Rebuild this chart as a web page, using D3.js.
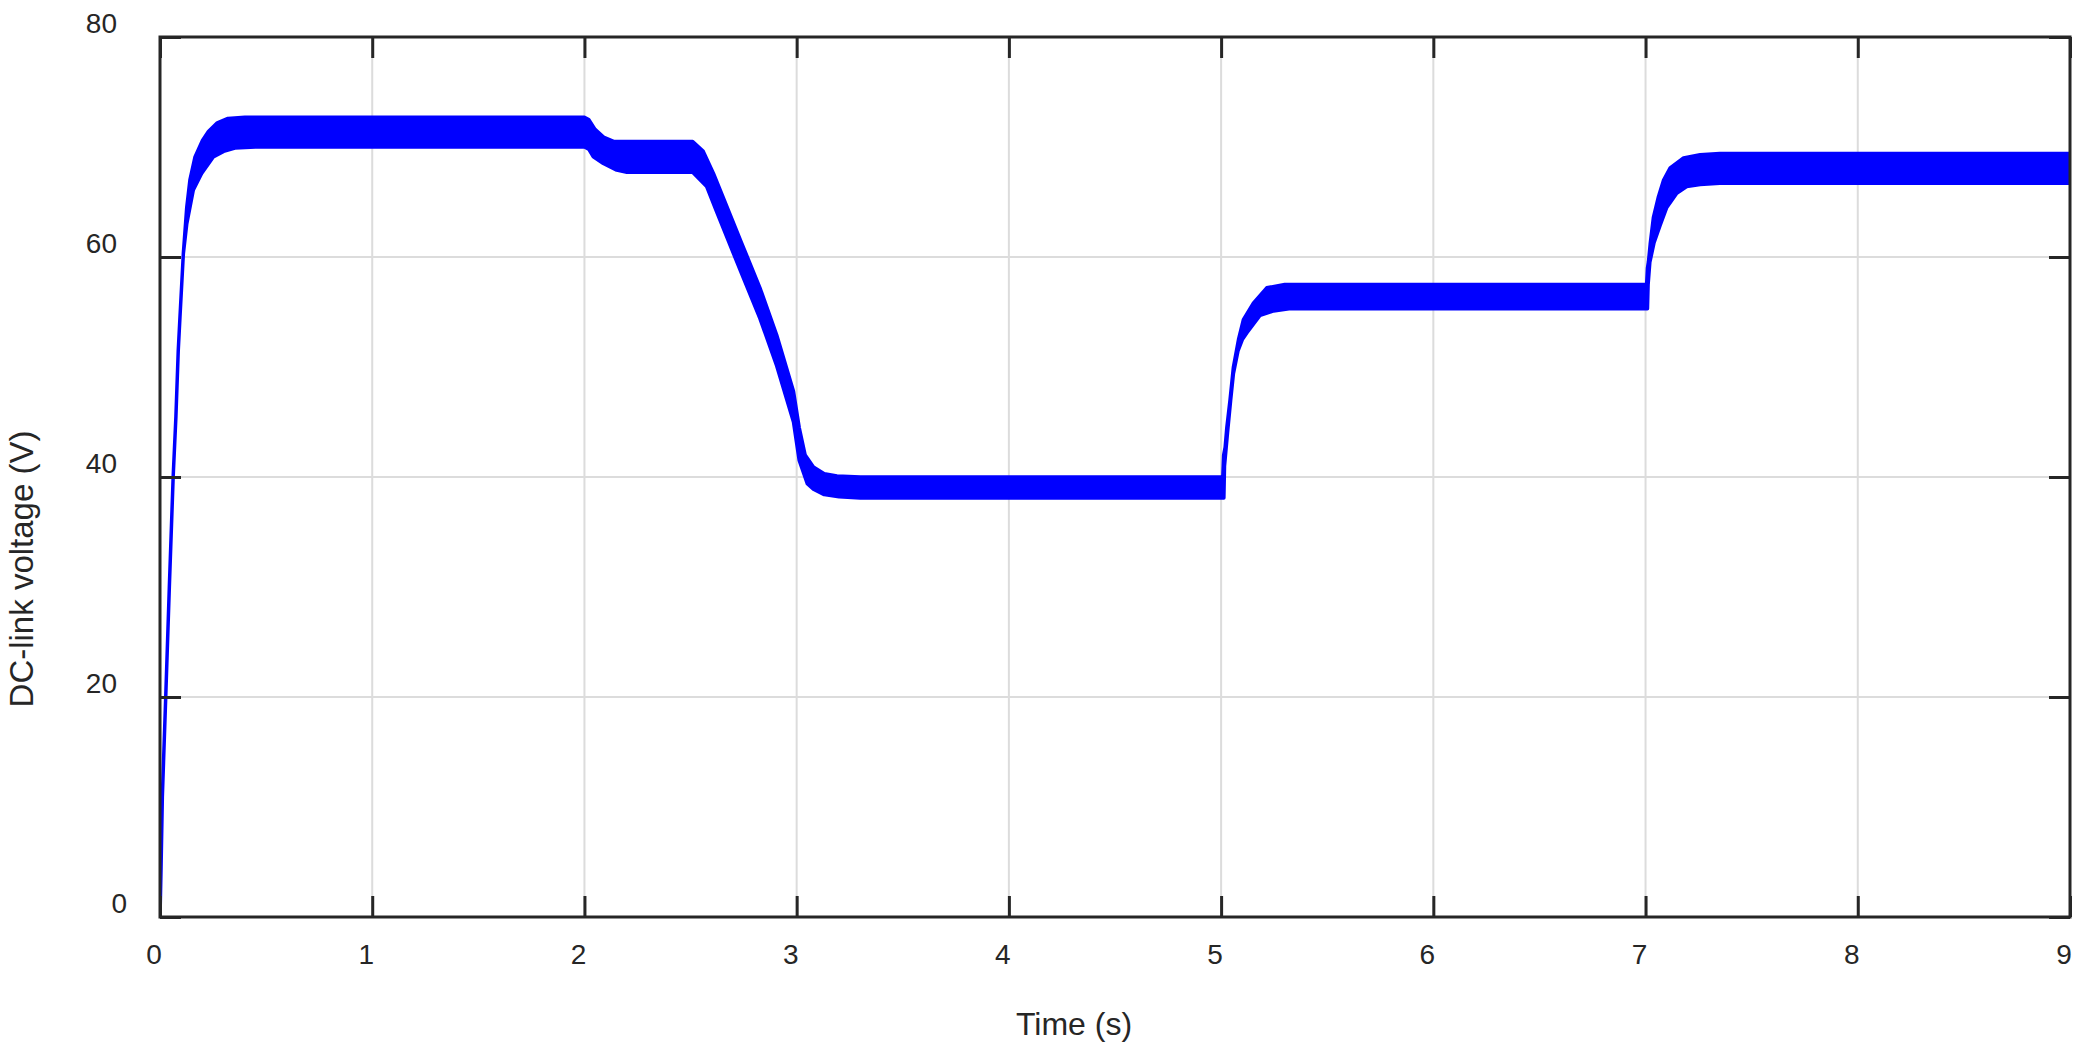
<!DOCTYPE html>
<html>
<head>
<meta charset="utf-8">
<script src="https://cdn.jsdelivr.net/npm/d3@7"></script>
<style>
  body { margin: 0; background: #fff; }
  text { font-family: "Liberation Sans", Arial, sans-serif; fill: #262626; }
</style>
</head>
<body>
<div id="d3-container"></div>
<script>
const width = 2082,
  height = 1050,
  margin = { top: 37, bottom: 133, left: 160, right: 12 },
  tickLen = 21;

// tick values
const xTicks = [0, 1, 2, 3, 4, 5, 6, 7, 8, 9];
const yTicks = [0, 20, 40, 60, 80];

// upper edge of the ripple band (time in s, voltage in V)
const upperTime = [0, 0.005, 0.011, 0.027, 0.044, 0.062, 0.075, 0.086, 0.094, 0.11,
  0.126, 0.141, 0.165, 0.2, 0.228, 0.27, 0.32, 0.4, 1.0, 2.0,
  2.02, 2.05, 2.09, 2.14, 2.51, 2.56, 2.608, 2.65, 2.738, 2.827,
  2.906, 2.985, 3.012, 3.04, 3.079, 3.13, 3.19, 3.3, 4.0, 5.008,
  5.012, 5.019, 5.027, 5.042, 5.058, 5.082, 5.105, 5.152, 5.215, 5.3,
  6.0, 7.005, 7.009, 7.014, 7.022, 7.037, 7.061, 7.085, 7.116, 7.179,
  7.257, 7.35, 8.0, 9.0];
const upperVolt = [0, 4.5, 10.9, 20, 30, 40, 45.5, 51.5, 54.5, 60.3,
  64.5, 67.0, 69.1, 70.6, 71.4, 72.2, 72.6, 72.7, 72.7, 72.7,
  72.5, 71.6, 70.9, 70.5, 70.5, 69.6, 67.6, 65.6, 61.4, 57.2,
  52.9, 47.8, 44.5, 42.0, 40.9, 40.3, 40.1, 40.0, 40.0, 40.0,
  42.0, 42.7, 44.5, 47.0, 50.0, 52.5, 54.3, 55.8, 57.2, 57.5,
  57.5, 57.5, 59.0, 59.6, 61.2, 63.6, 65.5, 67.0, 68.1, 69.0,
  69.3, 69.4, 69.4, 69.4];

// lower edge of the ripple band
const lowerTime = [0, 0.005, 0.011, 0.027, 0.044, 0.062, 0.075, 0.086, 0.094, 0.11,
  0.126, 0.157, 0.196, 0.251, 0.3, 0.353, 0.45, 1.0, 2.0, 2.02,
  2.042, 2.089, 2.152, 2.2, 2.51, 2.576, 2.623, 2.738, 2.827, 2.906,
  2.985, 3.012, 3.05, 3.079, 3.13, 3.2, 3.3, 4.0, 5.013, 5.016,
  5.03, 5.045, 5.058, 5.08, 5.1, 5.121, 5.184, 5.247, 5.32, 6.0,
  7.009, 7.012, 7.02, 7.04, 7.069, 7.1, 7.147, 7.194, 7.257, 7.35,
  8.0, 9.0];
const lowerVolt = [0, 4.5, 10.9, 20, 30, 40, 45.5, 51.5, 54.5, 60.3,
  63.0, 66.1, 67.6, 69.1, 69.6, 69.9, 70.0, 70.0, 70.0, 69.8,
  69.1, 68.5, 67.9, 67.7, 67.7, 66.4, 64.1, 58.6, 54.4, 50.1,
  45.0, 41.5, 39.4, 38.9, 38.4, 38.2, 38.1, 38.1, 38.1, 41.0,
  44.0, 47.0, 49.4, 51.5, 52.5, 53.1, 54.7, 55.1, 55.3, 55.3,
  55.3, 57.5, 59.5, 61.3, 62.9, 64.5, 65.8, 66.4, 66.6, 66.7,
  66.7, 66.7];

const axisColor = "#262626";

// SCALES
const xScale = d3.scaleLinear()
  .domain([0, 9])
  .range([margin.left, width - margin.right]);

const yScale = d3.scaleLinear()
  .domain([0, 80])
  .range([height - margin.bottom, margin.top]);

const svg = d3.select("#d3-container")
  .append("svg")
  .attr("width", width)
  .attr("height", height);

svg.append("rect")
  .attr("width", width)
  .attr("height", height)
  .attr("fill", "#fff");

const x0 = xScale(0), x1 = xScale(9), y0 = yScale(0), y1 = yScale(80);

// GRID
svg.append("g")
  .selectAll("line")
  .data(xTicks.slice(1, -1))
  .join("line")
  .attr("x1", d => xScale(d)).attr("x2", d => xScale(d))
  .attr("y1", y1).attr("y2", y0)
  .attr("stroke", "#dcdcdc")
  .attr("stroke-width", 2);

svg.append("g")
  .selectAll("line")
  .data(yTicks.slice(1, -1))
  .join("line")
  .attr("x1", x0).attr("x2", x1)
  .attr("y1", d => yScale(d)).attr("y2", d => yScale(d))
  .attr("stroke", "#dcdcdc")
  .attr("stroke-width", 2);

// SIGNAL band: upper edge forward, lower edge back
svg.append("clipPath")
  .attr("id", "plot-clip")
  .append("rect")
  .attr("x", x0).attr("y", y1)
  .attr("width", x1 - x0).attr("height", y0 - y1);

const upperPts = upperTime.map((t, i) => [t, upperVolt[i]]);
const lowerPts = lowerTime.map((t, i) => [t, lowerVolt[i]]).reverse();

const line = d3.line()
  .x(d => xScale(d[0]))
  .y(d => yScale(d[1]));

svg.append("path")
  .attr("clip-path", "url(#plot-clip)")
  .attr("d", line(upperPts.concat(lowerPts)) + "Z")
  .attr("fill", "#0000ff")
  .attr("stroke", "#0000ff")
  .attr("stroke-width", 3.5)
  .attr("stroke-linejoin", "round");

// AXES: inward ticks on all four sides
const xAxisB = d3.axisBottom(xScale).tickValues(xTicks).tickSize(-tickLen).tickFormat("");
const xAxisT = d3.axisTop(xScale).tickValues(xTicks).tickSize(-tickLen).tickFormat("");
const yAxisL = d3.axisLeft(yScale).tickValues(yTicks).tickSize(-tickLen).tickFormat("");
const yAxisR = d3.axisRight(yScale).tickValues(yTicks).tickSize(-tickLen).tickFormat("");

[[xAxisB, `translate(0,${y0})`], [xAxisT, `translate(0,${y1})`],
 [yAxisL, `translate(${x0},0)`], [yAxisR, `translate(${x1},0)`]].forEach(([ax, tr]) => {
  const g = svg.append("g").attr("transform", tr).call(ax);
  g.select(".domain").remove();
  g.selectAll(".tick line").attr("stroke", axisColor).attr("stroke-width", 3);
});

svg.append("rect")
  .attr("x", x0).attr("y", y1)
  .attr("width", x1 - x0).attr("height", y0 - y1)
  .attr("fill", "none")
  .attr("stroke", axisColor)
  .attr("stroke-width", 3);

// tick labels
svg.append("g")
  .selectAll("text")
  .data(xTicks)
  .join("text")
  .attr("x", d => xScale(d) - 6)
  .attr("y", y0 + 47)
  .attr("text-anchor", "middle")
  .attr("font-size", 28)
  .text(d => d);

svg.append("g")
  .selectAll("text")
  .data(yTicks)
  .join("text")
  .attr("x", d => x0 - (d === 0 ? 33 : 43))
  .attr("y", d => yScale(d) - 4)
  .attr("text-anchor", "end")
  .attr("font-size", 28)
  .text(d => d);

// axis titles
svg.append("text")
  .attr("x", 1074)
  .attr("y", 1035)
  .attr("text-anchor", "middle")
  .attr("font-size", 32)
  .text("Time (s)");

svg.append("text")
  .attr("transform", `translate(33,569) rotate(-90)`)
  .attr("text-anchor", "middle")
  .attr("font-size", 33)
  .text("DC-link voltage (V)");
</script>
</body>
</html>
